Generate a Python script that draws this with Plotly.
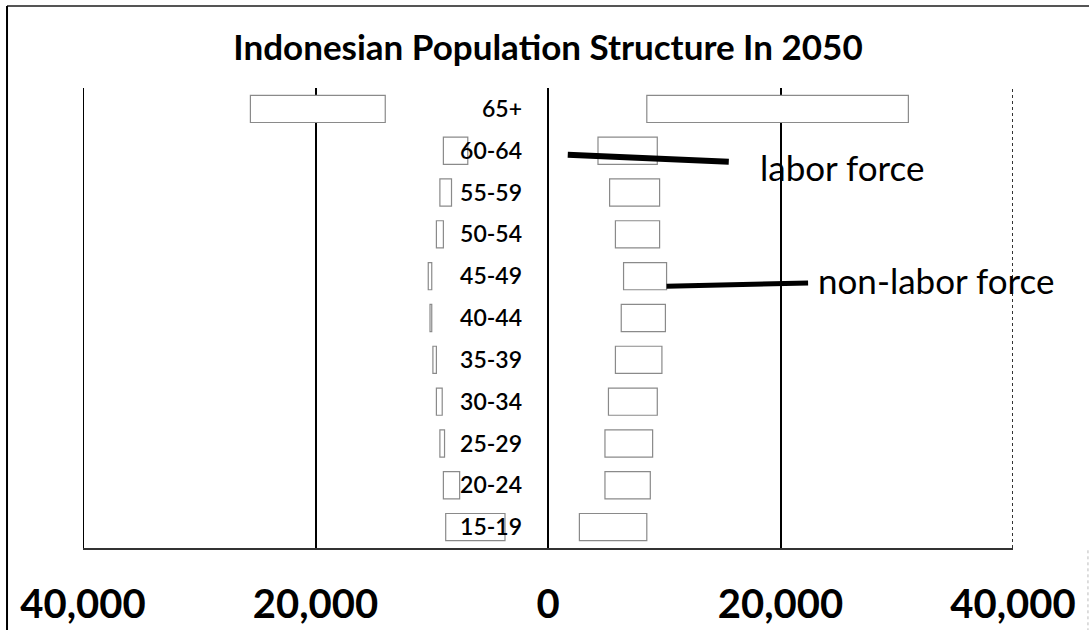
import plotly.graph_objects as go

# Age groups, bottom to top
age_groups = ["15-19", "20-24", "25-29", "30-34", "35-39", "40-44",
              "45-49", "50-54", "55-59", "60-64", "65+"]

# Right side: start and end of each outlined bar segment
right_start = [2700, 4900, 4900, 5200, 5800, 6300, 6500, 5800, 5300, 4300, 8500]
right_end = [8500, 8800, 9000, 9400, 9800, 10100, 10200, 9600, 9600, 9400, 31000]

# Left side (magnitudes): start and end of each outlined bar segment
left_start = [3700, 7600, 8900, 9100, 9600, 10000, 10000, 9000, 8300, 6900, 14000]
left_end = [8800, 9000, 9300, 9600, 9900, 10150, 10300, 9600, 9300, 9000, 25600]

tick_vals = [-40000, -20000, 0, 20000, 40000]
tick_text = ["40,000", "20,000", "0", "20,000", "40,000"]

outline = dict(color="#8a8a8a", width=1.2)

fig = go.Figure()
fig.add_trace(go.Bar(
    y=age_groups,
    x=[e - s for s, e in zip(right_start, right_end)],
    base=right_start,
    orientation="h",
    marker=dict(color="white", line=outline),
    showlegend=False,
))
fig.add_trace(go.Bar(
    y=age_groups,
    x=[-(e - s) for s, e in zip(left_start, left_end)],
    base=[-s for s in left_start],
    orientation="h",
    marker=dict(color="white", line=outline),
    showlegend=False,
))

fig.update_layout(
    width=1089, height=630,
    margin=dict(l=83, r=76, t=88, b=82, autoexpand=False),
    paper_bgcolor="white", plot_bgcolor="white",
    barmode="overlay", bargap=0.35,
    title=dict(
        text="<b>Indonesian Population Structure In 2050</b>",
        x=0.5, xref="paper", xanchor="center",
        y=1 - 48 / 630, yref="container", yanchor="middle",
        font=dict(family="Lato", size=35, color="black"),
    ),
    xaxis=dict(
        range=[-40000, 40000], automargin=False,
        tickvals=tick_vals, ticktext=tick_text,
        showgrid=True, gridcolor="black", gridwidth=2,
        zeroline=True, zerolinecolor="black", zerolinewidth=2,
        showline=True, linecolor="#333333", linewidth=2,
        ticks="", ticklabelstandoff=20,
        tickfont=dict(family="Lato", size=40, color="black", weight="bold"),
    ),
    yaxis=dict(
        type="category", categoryorder="array", categoryarray=age_groups,
        range=[-0.5, 10.5], automargin=False,
        anchor="free", position=0.5,
        showgrid=False, zeroline=False, showline=False, ticks="",
        ticklabelstandoff=26,
        tickfont=dict(family="Lato", size=23, color="black", weight=600),
    ),
    annotations=[
        dict(x=1700, y="60-64", xref="x", yref="y", yshift=-4,
             text="labor force", showarrow=True, arrowhead=0,
             arrowwidth=6, arrowcolor="black", ax=275, ay=12,
             startstandoff=30,
             font=dict(family="Lato", size=35, color="black")),
        dict(x=10200, y="45-49", xref="x", yref="y", yshift=-10,
             text="non-labor force", showarrow=True, arrowhead=0,
             arrowwidth=5, arrowcolor="black", ax=269, ay=-6,
             startstandoff=8,
             font=dict(family="Lato", size=35, color="black")),
    ],
    shapes=[
        dict(type="line", xref="x", yref="paper",
             x0=-40000, x1=-40000, y0=0, y1=1,
             line=dict(color="black", width=2), layer="below"),
        dict(type="line", xref="x", yref="paper",
             x0=40000, x1=40000, y0=0, y1=1,
             line=dict(color="#333333", width=2, dash="dot"), layer="below"),
        dict(type="line", xref="paper", yref="paper",
             x0=-0.0817, x1=1.09, y0=1.178, y1=1.178,
             line=dict(color="#555555", width=2)),
        dict(type="line", xref="paper", yref="paper",
             x0=-0.0817, x1=-0.0817, y0=1.178, y1=-0.2,
             line=dict(color="black", width=2)),
        dict(type="line", xref="paper", yref="paper",
             x0=1.0806, x1=1.0806, y0=-0.005, y1=-0.2,
             line=dict(color="#bbbbbb", width=1, dash="dot")),
    ],
)

fig.write_html(
    "out.html",
    config={"displayModeBar": False},
    post_script="document.body.style.margin='0';document.body.style.overflow='hidden';",
)
